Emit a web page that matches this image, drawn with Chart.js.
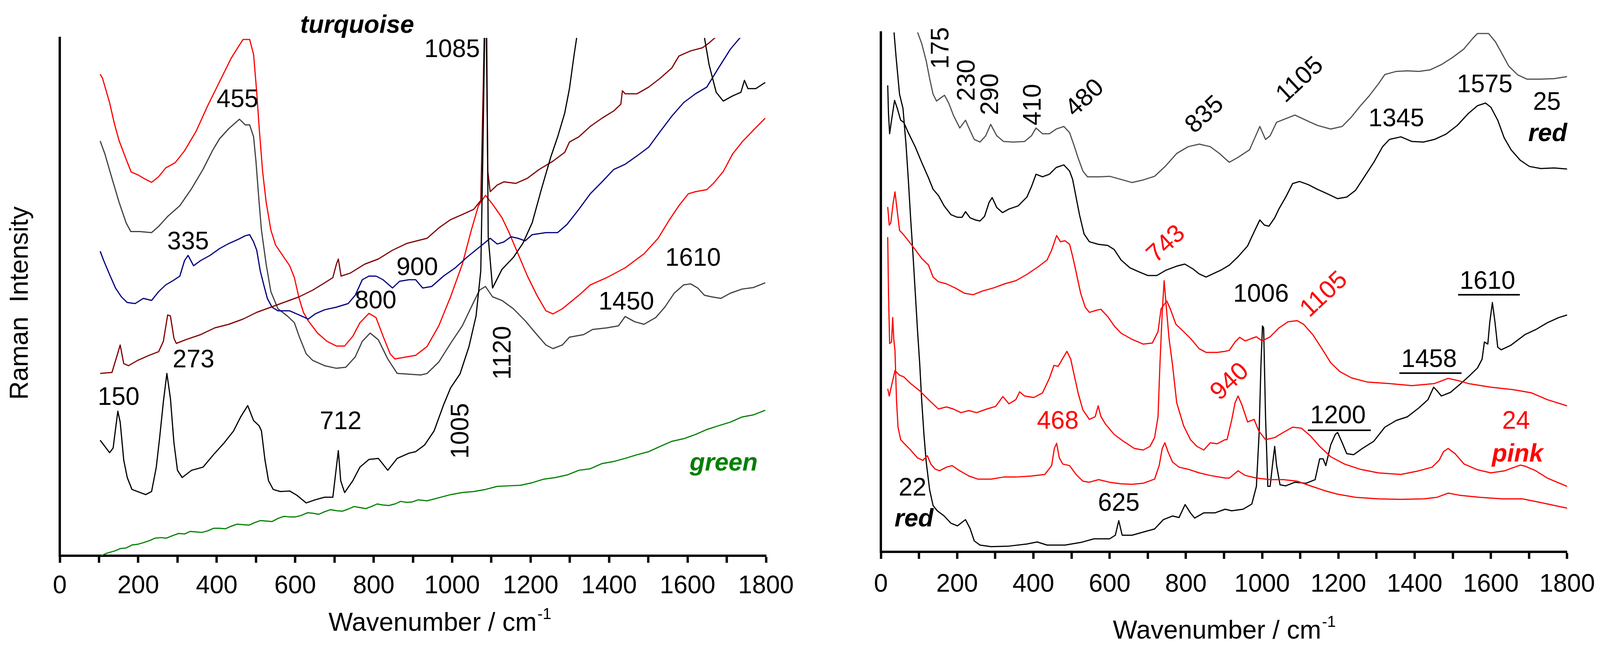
<!DOCTYPE html>
<html>
<head>
<meta charset="utf-8">
<script src="https://cdn.jsdelivr.net/npm/chart.js@4.4.1/dist/chart.umd.min.js"></script>
<style>
  html, body { margin: 0; padding: 0; background: #fff; }
  #wrap { position: relative; width: 4111px; height: 1676px; }
  .box { position: absolute; top: 0; height: 1676px; }
  #leftBox { left: 0; width: 2055px; }
  #rightBox { left: 2055px; width: 2056px; }
</style>
</head>
<body>
<div id="wrap">
  <div class="box" id="leftBox"><canvas id="turquoiseChart"></canvas></div>
  <div class="box" id="rightBox"><canvas id="redPinkChart"></canvas></div>
</div>
<script>
// wavenumber (cm-1) / relative intensity (0 = axis, 100 = top of frame)

// ---- left panel: turquoise + green ----
const turqRed = [[103,93.0],[109,92.2],[127,87.5],[139,83.5],[151,80.2],[169,76.6],[182,74.1],[198,73.6],[216,72.8],[234,72.1],[252,73.2],[270,74.9],[294,75.9],[318,78.2],[347,81.9],[377,86.9],[407,91.5],[437,96.1],[467,99.7],[484,99.7],[494,96.8],[502,89.5],[508,82.9],[517,74.2],[526,68.3],[538,62.9],[550,60.0],[568,58.0],[586,56.0],[598,53.7],[610,49.7],[621,47.0],[633,45.4],[657,43.0],[681,41.4],[705,40.5],[726,40.5],[747,42.4],[765,45.0],[788,46.8],[806,46.0],[824,42.4],[842,39.0],[854,38.0],[884,38.4],[907,38.7],[936,40.4],[966,44.4],[996,50.0],[1026,56.3],[1049,62.9],[1067,67.6],[1085,69.6],[1103,67.9],[1127,65.3],[1144,62.6],[1168,58.3],[1192,54.0],[1216,50.3],[1239,47.3],[1257,46.7],[1281,47.7],[1323,50.3],[1352,52.3],[1394,53.7],[1441,55.6],[1489,58.3],[1525,61.3],[1554,64.9],[1578,67.6],[1602,69.9],[1620,70.3],[1649,70.7],[1667,72.0],[1691,74.2],[1715,77.6],[1739,79.9],[1768,82.2],[1798,84.5]];

const turqGray = [[103,80.1],[115,77.6],[133,72.9],[151,68.3],[169,64.3],[181,62.6],[204,62.6],[234,62.4],[252,63.6],[276,65.6],[306,67.6],[336,70.9],[365,74.6],[389,78.2],[407,80.5],[431,82.5],[458,84.3],[473,83.2],[484,83.2],[494,80.9],[500,76.2],[508,68.3],[514,62.9],[526,56.3],[538,51.0],[556,47.7],[580,46.3],[598,45.0],[610,42.4],[628,39.0],[645,37.7],[675,36.7],[705,36.2],[729,36.4],[753,38.4],[771,41.4],[791,43.0],[812,41.7],[836,38.0],[860,35.2],[884,35.1],[920,34.9],[936,35.2],[966,37.4],[996,41.0],[1026,44.4],[1055,49.0],[1070,51.3],[1085,52.0],[1103,50.0],[1127,49.3],[1156,47.7],[1186,45.4],[1216,42.7],[1239,40.7],[1257,40.0],[1281,40.7],[1299,42.2],[1335,42.7],[1358,43.7],[1394,44.0],[1424,44.4],[1441,46.2],[1465,45.2],[1489,44.7],[1519,46.0],[1542,48.0],[1566,50.7],[1590,52.3],[1608,52.5],[1626,51.7],[1643,50.3],[1661,50.0],[1685,49.7],[1709,50.7],[1739,51.5],[1768,51.8],[1798,52.7]];

const turqBlue = [[103,58.8],[112,57.0],[127,54.3],[142,51.7],[157,50.0],[172,48.9],[192,48.7],[213,49.7],[234,49.3],[252,51.0],[270,52.3],[288,53.1],[306,54.0],[318,57.0],[327,58.0],[341,56.0],[359,57.0],[383,58.0],[407,59.3],[431,60.3],[455,61.1],[473,61.8],[484,62.0],[494,60.6],[502,59.0],[511,55.0],[520,52.3],[529,49.7],[541,48.0],[556,47.3],[586,47.3],[610,46.5],[633,45.7],[651,46.7],[675,47.5],[705,48.0],[735,48.7],[753,50.3],[771,53.3],[788,54.0],[806,54.0],[824,53.3],[848,51.7],[866,53.0],[890,53.3],[907,53.3],[925,51.7],[948,52.0],[978,54.0],[1008,55.6],[1037,57.6],[1073,59.8],[1097,61.3],[1115,60.2],[1132,60.6],[1150,61.6],[1168,61.3],[1186,60.8],[1204,62.0],[1239,62.4],[1269,62.4],[1293,64.0],[1323,66.9],[1352,69.9],[1382,72.2],[1412,74.6],[1441,75.6],[1471,77.2],[1501,78.9],[1530,81.9],[1560,84.9],[1590,87.5],[1620,89.2],[1649,90.5],[1679,94.2],[1709,97.8],[1739,100.5]];

const turqMaroon = [[103,35.2],[133,35.4],[145,38.4],[154,40.7],[163,37.1],[175,36.7],[198,37.7],[228,38.7],[252,39.4],[264,41.4],[275,46.5],[282,46.3],[291,42.0],[297,41.0],[324,41.8],[359,42.7],[395,44.0],[431,44.7],[467,45.7],[502,47.0],[538,48.0],[574,49.0],[610,50.0],[645,51.3],[675,52.7],[696,53.7],[705,56.3],[710,57.3],[717,54.0],[741,54.6],[777,56.3],[812,57.3],[848,59.0],[884,60.3],[920,61.0],[936,61.3],[966,63.3],[996,64.9],[1026,65.9],[1055,66.9],[1073,68.6],[1079,89.5],[1082,101],[1087,101],[1091,74.2],[1097,70.3],[1115,71.6],[1132,72.2],[1162,71.9],[1192,72.9],[1222,74.6],[1257,76.2],[1287,77.9],[1299,79.9],[1323,80.9],[1352,82.9],[1382,84.5],[1412,85.9],[1430,87.2],[1434,89.8],[1441,89.2],[1471,89.2],[1501,90.5],[1530,92.2],[1560,94.2],[1578,96.5],[1608,97.5],[1638,98.1],[1656,99.1],[1677,100.5]];

const turqBlack = [[103,22.3],[115,21.1],[127,19.9],[136,20.8],[142,24.4],[148,27.9],[154,25.8],[163,18.5],[172,15.1],[184,12.8],[198,12.4],[219,11.8],[234,12.4],[246,17.1],[255,23.1],[264,29.7],[273,35.2],[282,30.4],[291,21.8],[300,16.5],[312,15.1],[336,16.5],[365,17.1],[395,19.8],[419,21.8],[443,24.1],[461,26.8],[479,29.0],[494,26.1],[508,25.1],[514,24.1],[523,18.5],[532,14.5],[544,12.8],[562,12.4],[586,12.5],[604,11.7],[628,10.2],[651,10.8],[675,11.3],[696,11.3],[705,17.1],[710,20.3],[716,14.5],[726,12.2],[747,14.5],[765,17.1],[788,18.6],[812,18.8],[836,16.5],[860,18.8],[890,19.8],[907,20.1],[930,21.4],[954,24.1],[978,29.1],[996,32.4],[1020,35.1],[1043,40.4],[1061,46.3],[1073,55.0],[1078,76.2],[1083,101],[1088,101],[1092,61.6],[1103,51.7],[1127,55.3],[1156,57.6],[1180,60.3],[1204,64.3],[1228,70.9],[1251,76.9],[1269,80.9],[1287,85.5],[1299,90.2],[1311,96.8],[1323,102.8],[1400,140],[1550,140],[1630,112],[1643,100.1],[1655,94.8],[1673,89.5],[1691,87.8],[1715,88.8],[1736,89.5],[1745,91.8],[1754,90.2],[1774,90.2],[1798,91.4]];

const turqGreen = [[105,0.0],[120,0.5],[139,0.9],[155,1.4],[169,1.5],[185,2.1],[198,2.2],[212,2.5],[228,2.9],[243,3.4],[258,3.5],[272,3.4],[288,3.9],[303,4.3],[318,4.2],[333,4.7],[347,4.6],[362,4.5],[377,4.8],[392,5.3],[407,5.3],[422,5.2],[437,5.7],[452,6.1],[467,6.0],[482,5.9],[497,6.4],[512,6.8],[526,6.7],[541,6.6],[556,7.2],[571,7.6],[586,7.5],[601,7.5],[616,7.8],[631,8.3],[645,8.2],[660,8.0],[675,8.5],[690,8.9],[705,8.7],[720,8.6],[735,9.0],[750,9.5],[765,9.3],[780,9.1],[794,9.5],[809,10.0],[824,9.8],[839,9.7],[854,10.0],[869,10.5],[884,10.3],[899,10.4],[914,10.8],[936,10.6],[966,11.2],[996,11.8],[1026,12.2],[1055,12.4],[1085,12.8],[1115,13.4],[1144,13.5],[1174,13.6],[1204,14.1],[1234,14.8],[1263,15.1],[1293,15.6],[1323,16.5],[1352,16.8],[1382,17.8],[1412,18.2],[1441,18.8],[1471,19.5],[1501,20.1],[1530,21.1],[1560,22.1],[1590,22.6],[1620,23.4],[1650,24.4],[1679,25.1],[1709,25.8],[1739,26.8],[1768,27.2],[1798,28.1]];

// ---- right panel: red / pink ----
const red25Gray = [[80,110],[94,100.5],[107,97.9],[119,94.5],[128,91.1],[137,88.1],[146,86.8],[157,87.4],[167,87.9],[178,86.4],[190,84.1],[207,81.6],[222,83.1],[234,81.1],[245,79.4],[260,78.9],[275,80.1],[288,82.3],[304,80.1],[322,79.0],[348,78.9],[377,79.0],[395,80.1],[407,81.6],[424,80.5],[442,80.5],[460,81.4],[480,81.9],[495,80.7],[506,78.4],[518,75.7],[530,73.3],[542,72.2],[571,72.2],[600,72.3],[630,71.7],[659,71.1],[688,71.6],[718,72.3],[747,74.3],[776,76.7],[806,78.0],[835,78.5],[864,78.0],[888,76.7],[903,75.7],[914,75.0],[938,76.0],[967,77.4],[985,80.4],[994,81.9],[1009,79.4],[1021,80.1],[1038,82.7],[1062,83.4],[1086,84.1],[1115,83.1],[1145,82.1],[1180,81.4],[1210,81.9],[1234,83.7],[1257,85.8],[1281,87.8],[1305,90.1],[1322,91.9],[1352,92.5],[1381,92.6],[1411,92.5],[1441,92.8],[1470,93.8],[1500,95.2],[1529,96.8],[1553,98.9],[1565,99.8],[1594,99.8],[1612,98.2],[1630,95.8],[1647,93.5],[1671,91.8],[1695,91.0],[1730,91.0],[1766,91.1],[1800,91.5]];

const redBlack = [[18,89.8],[20,84.4],[23,80.5],[28,83.1],[36,86.9],[43,85.4],[52,83.1],[60,82.7],[72,80.7],[90,78.0],[107,75.0],[125,72.0],[137,69.8],[151,68.6],[166,66.6],[184,64.9],[201,64.4],[213,64.4],[222,65.5],[234,64.3],[248,63.9],[260,63.7],[272,64.6],[284,67.3],[292,68.2],[304,66.3],[319,65.3],[336,66.0],[360,66.6],[383,68.3],[395,70.3],[407,72.7],[424,72.2],[442,72.7],[460,74.0],[480,74.5],[495,73.3],[503,71.7],[512,68.3],[521,64.9],[533,61.2],[547,59.7],[571,59.2],[595,59.0],[612,58.2],[630,56.2],[653,54.7],[677,53.9],[700,53.2],[724,53.2],[747,54.2],[776,55.0],[797,55.4],[818,54.5],[835,53.5],[853,52.9],[876,53.7],[891,54.2],[914,55.2],[938,56.9],[962,58.9],[979,61.6],[994,63.9],[1006,62.9],[1018,62.7],[1033,64.3],[1044,66.0],[1062,68.3],[1080,70.9],[1098,71.3],[1121,70.7],[1145,69.8],[1169,69.0],[1198,68.0],[1222,68.3],[1245,69.6],[1269,72.3],[1293,75.0],[1316,78.0],[1334,79.4],[1364,79.9],[1393,79.0],[1423,78.9],[1452,79.4],[1482,80.4],[1512,82.1],[1541,84.4],[1565,85.9],[1586,86.4],[1600,85.6],[1618,83.1],[1635,79.7],[1653,77.4],[1677,75.4],[1701,74.2],[1731,73.8],[1766,73.9],[1800,73.7]];

const pinkTop = [[18,66.4],[22,62.9],[26,63.3],[32,67.0],[37,69.3],[43,65.6],[49,61.9],[58,61.2],[72,59.9],[90,58.2],[107,56.5],[125,55.2],[137,52.9],[151,52.0],[172,51.6],[195,50.8],[219,49.8],[242,49.5],[266,50.2],[295,50.8],[325,51.6],[354,52.2],[383,53.4],[413,54.9],[436,56.2],[448,58.1],[461,60.9],[471,59.7],[483,59.9],[495,59.2],[503,56.9],[512,53.9],[524,49.8],[536,47.1],[547,46.1],[565,46.5],[577,46.7],[595,45.3],[612,43.5],[630,42.1],[659,40.9],[688,40.0],[712,40.2],[727,42.4],[735,46.8],[750,48.3],[759,46.8],[774,43.8],[794,42.4],[812,41.1],[835,39.1],[853,38.4],[882,38.4],[903,38.6],[914,38.8],[929,40.4],[941,41.3],[956,40.6],[973,41.1],[985,41.4],[1000,40.6],[1021,41.4],[1044,43.1],[1068,44.3],[1092,44.5],[1109,43.8],[1133,41.8],[1157,39.1],[1180,36.4],[1204,34.7],[1234,33.5],[1275,32.7],[1334,32.4],[1393,32.0],[1452,32.4],[1488,33.4],[1512,33.0],[1541,32.4],[1600,31.7],[1660,31.2],[1707,30.6],[1748,29.3],[1800,28.1]];

const pinkMid = [[18,31.4],[22,30.0],[28,32.0],[37,34.9],[49,34.0],[60,33.7],[78,32.4],[102,31.0],[125,29.3],[151,27.5],[172,27.9],[190,27.5],[210,26.8],[231,27.2],[251,26.8],[278,27.5],[301,28.0],[320,29.9],[336,28.5],[354,29.3],[364,30.8],[377,30.0],[401,29.7],[424,30.6],[442,33.4],[454,35.9],[465,35.7],[476,37.1],[488,38.6],[498,37.1],[506,34.4],[518,30.4],[530,27.3],[547,25.5],[562,26.0],[570,28.1],[577,26.1],[589,24.6],[612,22.6],[636,21.3],[665,19.9],[688,19.6],[706,20.3],[718,22.0],[727,26.0],[732,36.1],[738,46.1],[743,52.2],[750,46.0],[756,41.0],[765,36.0],[776,28.7],[794,24.3],[812,21.6],[829,20.3],[847,19.6],[864,21.0],[882,20.8],[903,21.6],[908,21.6],[920,25.3],[929,28.7],[937,30.0],[947,28.3],[962,25.0],[979,25.5],[991,23.3],[1009,21.6],[1033,22.0],[1056,23.0],[1080,24.0],[1103,23.8],[1127,22.3],[1151,20.3],[1180,18.3],[1216,16.9],[1257,15.9],[1305,15.2],[1364,14.9],[1411,15.6],[1446,16.3],[1464,17.6],[1476,19.3],[1488,19.9],[1506,18.9],[1530,16.9],[1565,15.8],[1600,15.2],[1636,15.6],[1677,16.7],[1689,16.5],[1718,15.6],[1748,14.2],[1800,12.6]];

const pinkLow = [[18,60.6],[20,50.0],[23,40.1],[28,40.4],[31,45.1],[34,40.8],[37,38.8],[41,29.3],[45,24.0],[52,21.6],[62,20.8],[78,19.6],[96,18.1],[110,17.6],[122,18.5],[131,16.9],[143,15.9],[154,15.6],[172,16.3],[187,16.6],[207,15.6],[231,14.6],[254,14.0],[289,14.0],[322,14.4],[354,14.4],[395,14.6],[430,14.9],[448,16.6],[455,19.9],[461,20.9],[468,18.1],[477,16.9],[495,16.6],[512,14.9],[530,13.6],[547,13.4],[571,13.9],[600,13.4],[630,13.1],[659,13.0],[688,13.2],[718,14.0],[730,16.6],[738,19.9],[745,21.0],[753,19.3],[765,17.3],[782,16.3],[806,15.9],[835,15.2],[864,14.7],[903,14.2],[914,14.2],[937,15.6],[956,14.7],[985,14.2],[1021,13.9],[1056,13.9],[1092,13.6],[1127,12.7],[1163,11.8],[1198,11.1],[1245,10.5],[1305,10.2],[1364,10.1],[1423,10.2],[1459,10.5],[1488,11.3],[1517,10.9],[1571,10.5],[1630,10.2],[1683,10.2],[1730,9.5],[1800,8.4]];

const red22Black = [[30,110],[34,100.5],[40,95.2],[49,88.1],[58,85.4],[66,78.4],[72,71.7],[78,64.3],[84,57.6],[90,50.2],[96,42.8],[102,36.1],[107,29.3],[113,22.6],[119,17.3],[128,11.9],[137,8.9],[148,7.9],[166,6.9],[184,5.5],[201,5.0],[222,6.2],[234,4.5],[245,2.1],[260,1.3],[289,1.0],[336,1.1],[383,1.5],[410,1.9],[436,1.3],[483,1.3],[524,1.8],[559,2.5],[600,2.5],[615,3.2],[624,6.0],[633,3.2],[659,3.2],[688,3.8],[718,4.4],[741,6.2],[765,6.9],[782,6.6],[798,9.1],[812,7.5],[823,6.5],[847,7.5],[876,7.5],[903,8.2],[920,7.9],[950,8.2],[973,9.2],[985,12.6],[992,22.6],[997,36.1],[1001,43.5],[1004,43.1],[1009,26.0],[1015,12.6],[1021,12.6],[1027,16.6],[1033,20.3],[1038,16.6],[1047,12.9],[1062,12.7],[1086,13.4],[1115,13.2],[1139,13.9],[1151,17.9],[1160,17.9],[1167,16.6],[1180,20.6],[1192,22.6],[1198,23.0],[1210,21.0],[1222,18.9],[1240,18.7],[1263,19.9],[1293,21.3],[1322,24.0],[1352,25.3],[1381,26.0],[1411,27.7],[1435,29.3],[1450,31.7],[1459,31.0],[1470,30.0],[1494,30.7],[1518,32.2],[1541,33.7],[1565,35.4],[1577,37.1],[1583,40.4],[1592,40.0],[1597,44.1],[1604,48.0],[1611,44.1],[1618,39.4],[1627,38.9],[1653,39.8],[1689,41.8],[1718,42.8],[1748,44.1],[1778,45.1],[1800,45.6]];

// peak / sample labels: [text, wavenumber, intensity]
const leftPeaks = [['455',453,88.0],['335',327,60.5],['273',341,37.7],['150',150,30.5],['712',716,25.8],['800',805,49.1],['900',911,55.5],['1085',1000,97.6],['1450',1444,48.9],['1610',1614,57.3]];
const leftRotPeaks = [['1120',1131,39.2],['1005',1024,24.1]];
const rightPeaks = [['1345',1352,83.3],['1575',1584,89.8],['25',1747,86.4],['1006',997,49.5],['22',83,12.2],['625',624,9.2]];
const rightRotPeaks = [['175',159,97.0],['230',228,90.8],['290',289,88.1],['410',401,86.1]];
const rightSlantPeaks = [['480',536,87.3],['835',850,84.1],['1105',1100,90.8]];
const rightRedSlant = [['743',749,59.2],['1105',1163,49.5],['940',916,32.7]];
const rightRedPeaks = [['468',464,25.0],['24',1666,25.0]];
const underlined = [['1610',1591,52.0,1514,1676,49.5],['1458',1438,36.9,1360,1523,34.4],['1200',1199,26.1,1120,1285,23.4]];

const FONT = '"Liberation Sans", Arial, sans-serif';

function pts(arr) { return arr.map(p => ({ x: p[0], y: p[1] })); }

function line(arr, color) {
  return { data: pts(arr), borderColor: color, borderWidth: 3, pointRadius: 0, tension: 0, fill: false, borderJoinStyle: 'round' };
}

function textPlugin(items, titleCfg) {
  return {
    id: 'textPlugin',
    afterDraw(chart) {
      const ctx = chart.ctx, xs = chart.scales.x, ys = chart.scales.y;
      items.forEach(it => {
        ctx.save();
        ctx.translate(xs.getPixelForValue(it.x), ys.getPixelForValue(it.y));
        ctx.rotate((it.rot || 0) * Math.PI / 180);
        ctx.font = (it.style || '') + ' 64px ' + FONT;
        ctx.fillStyle = it.color || '#000';
        ctx.textAlign = 'center';
        ctx.textBaseline = 'middle';
        ctx.fillText(it.t, 0, 0);
        ctx.restore();
        if (it.u) {
          ctx.save();
          ctx.strokeStyle = '#000';
          ctx.lineWidth = 4;
          ctx.beginPath();
          const yy = ys.getPixelForValue(it.u[2]);
          ctx.moveTo(xs.getPixelForValue(it.u[0]), yy);
          ctx.lineTo(xs.getPixelForValue(it.u[1]), yy);
          ctx.stroke();
          ctx.restore();
        }
      });

      // x axis title with superscript
      ctx.save();
      ctx.fillStyle = '#000';
      ctx.textBaseline = 'alphabetic';
      ctx.font = '66px ' + FONT;
      const main = 'Wavenumber / cm';
      const wMain = ctx.measureText(main).width;
      ctx.font = '40px ' + FONT;
      const wSup = ctx.measureText('-1').width;
      const cx = xs.getPixelForValue(titleCfg.x);
      const base = chart.chartArea.bottom + titleCfg.dy;
      const x0 = cx - (wMain + wSup) / 2;
      ctx.font = '66px ' + FONT;
      ctx.textAlign = 'left';
      ctx.fillText(main, x0, base);
      ctx.font = '40px ' + FONT;
      ctx.fillText('-1', x0 + wMain + 2, base - 30);
      ctx.restore();

      if (titleCfg.yTitle) {
        ctx.save();
        ctx.translate(53, (chart.chartArea.top + chart.chartArea.bottom) / 2 + 16);
        ctx.rotate(-Math.PI / 2);
        ctx.font = '66px ' + FONT;
        ctx.fillStyle = '#000';
        ctx.textAlign = 'center';
        ctx.textBaseline = 'middle';
        ctx.fillText(titleCfg.yTitle, 0, 0);
        ctx.restore();
      }
    }
  };
}

function spectrumChart(id, datasets, box, items, titleCfg) {
  return new Chart(document.getElementById(id), {
    type: 'line',
    data: { datasets: datasets },
    options: {
      responsive: true,
      maintainAspectRatio: false,
      devicePixelRatio: 1,
      animation: false,
      events: [],
      layout: { padding: { left: 0, right: box.right, top: box.top, bottom: 0 } },
      plugins: { legend: { display: false }, tooltip: { enabled: false } },
      scales: {
        x: {
          type: 'linear',
          min: 0,
          max: 1800,
          afterFit: s => { s.height = box.xHeight; },
          ticks: {
            stepSize: 100,
            autoSkip: false,
            maxRotation: 0,
            padding: box.tickPad,
            color: '#000',
            font: { family: FONT, size: 64 },
            callback: v => (v % 200 === 0 ? String(v) : '')
          },
          grid: { display: true, drawOnChartArea: false, drawTicks: true, tickLength: 18, tickWidth: 6, tickColor: '#000' },
          border: { display: true, width: 6, color: '#000' }
        },
        y: {
          min: 0,
          max: 100,
          afterFit: s => { s.width = box.yWidth; },
          ticks: { display: false },
          grid: { display: false },
          border: { display: true, width: 6, color: '#000' }
        }
      }
    },
    plugins: [textPlugin(items, titleCfg)]
  });
}

// left panel
const leftItems = []
  .concat(leftPeaks.map(p => ({ t: p[0], x: p[1], y: p[2] })))
  .concat(leftRotPeaks.map(p => ({ t: p[0], x: p[1], y: p[2], rot: -90 })))
  .concat([
    { t: 'turquoise', x: 758, y: 102.3, style: 'italic bold' },
    { t: 'green', x: 1692, y: 17.8, style: 'italic bold', color: '#008000' }
  ]);

spectrumChart('turquoiseChart', [
  line(turqGreen, '#008000'),
  line(turqBlack, '#000000'),
  line(turqMaroon, '#800000'),
  line(turqBlue, '#000080'),
  line(turqGray, '#404040'),
  line(turqRed, '#ff0000')
], { right: 94, top: 97, xHeight: 254, yWidth: 153, tickPad: 22 }, leftItems,
   { x: 968, dy: 192, yTitle: 'Raman  Intensity' });

// right panel
const rightItems = []
  .concat(rightPeaks.map(p => ({ t: p[0], x: p[1], y: p[2] })))
  .concat(rightRotPeaks.map(p => ({ t: p[0], x: p[1], y: p[2], rot: -90 })))
  .concat(rightSlantPeaks.map(p => ({ t: p[0], x: p[1], y: p[2], rot: -43 })))
  .concat(rightRedSlant.map(p => ({ t: p[0], x: p[1], y: p[2], rot: -43, color: '#ff0000' })))
  .concat(rightRedPeaks.map(p => ({ t: p[0], x: p[1], y: p[2], color: '#ff0000' })))
  .concat(underlined.map(p => ({ t: p[0], x: p[1], y: p[2], u: [p[3], p[4], p[5]] })))
  .concat([
    { t: 'red', x: 1749, y: 80.4, style: 'italic bold' },
    { t: 'red', x: 87, y: 6.2, style: 'italic bold' },
    { t: 'pink', x: 1670, y: 18.7, style: 'italic bold', color: '#ff0000' }
  ]);

spectrumChart('redPinkChart', [
  line(pinkLow, '#ff0000'),
  line(pinkMid, '#ff0000'),
  line(pinkTop, '#ff0000'),
  line(red22Black, '#000000'),
  line(redBlack, '#000000'),
  line(red25Gray, '#505050')
], { right: 88, top: 83, xHeight: 264, yWidth: 200, tickPad: 28 }, rightItems,
   { x: 900, dy: 222 });
</script>
</body>
</html>
